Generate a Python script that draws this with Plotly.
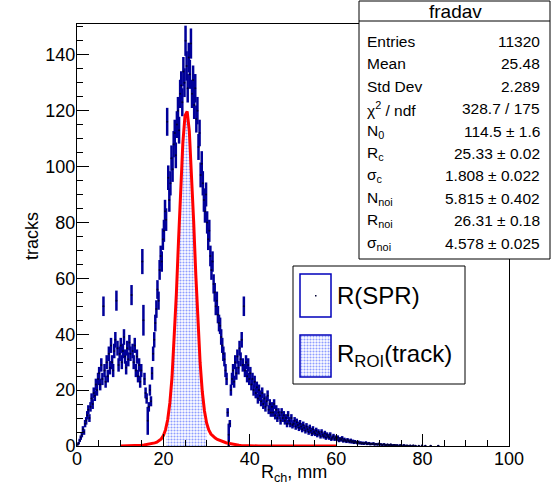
import numpy as np
import plotly.graph_objects as go

# ---------------- data ----------------
# R(SPR): histogram with 0.25 mm bins starting at 0 mm (None = empty bin)
spr_bin_start = 0.0
spr_bin_width = 0.25
spr_counts = [
    0.5, 1, 2, 3, 4, 6, 5, 8, 9, 11, 13, 10, 14, 17, 15, 19, 18, 22, 20, 24,
    26, 22, 29, 24, 50, 27, 23, 30, 25, 33, 28, 36, 30, 27, 34, 38, 52, 35, 29, 33,
    36, 30, 34, 39, 32, 28, 35, 31, 37, 33, 54, 34, 30, 36, 27, 32, 25, 29, 23, 27,
    66, 45, 24, 19, 17, 9, 14, 20, 16, 26, 33, 38, 44, 49, 56, 52, 63, 68, 66, 74,
    77, 84, 81, 116, 96, 88, 94, 103, 99, 108, 112, 104, 115, 120, 113, 126, 129, 123, 134, 130,
    145, 136, 128, 139, 133, 144, 126, 131, 122, 128, 117, 120, 107, 112, 97, 101, 94, 88, 84, 90,
    80, 74, 77, 68, 63, 66, 58, 55, 50, 52, 47, 44, 43, 39, 36, 33, 31, 27, 24, 12,
    4, 8, 20, 24, 27, 23, 30, 26, 32, 28, 35, 31, 38, 29, 50, 27, 30, 25, 29, 24,
    26, 22, 24, 20, 23, 19, 21, 17, 20, 18, 16, 19, 15, 17, 14, 16, 18, 13, 15, 12,
    14, 12, 15, 11, 13, 10, 12, 11, 9, 12, 10, 11, 9, 10, 8, 11, 9, 8, 10, 7.5,
    8, 9, 7, 8.5, 7.5, 6.5, 8, 7, 6, 7.5, 6.5, 5.5, 7, 6, 5, 6.5, 5.5, 4.5, 6, 5,
    4.5, 5.5, 4, 5, 4.5, 3.5, 5, 4, 3.5, 4.5, 3, 4, 3.5, 3, 4, 2.5, 3, 3.5, 2.5, 3,
    2.5, 3, 2, 2.5, 2.2, 2.8, 1.8, 2.3, 2, 1.6, 2.2, 1.8, 1.5, 2, 1.4, 1.7, 1.2, 1.6, 1.3, 1.1,
    1.4, 1, 1.2, 0.9, 1.1, 0.8, 1, 1.2, 0.7, 0.9, 1, 0.6, 0.8, 0.7, 0.9, 0.5, 0.7, 0.6, 0.5, 0.8,
    0.5, 0.6, 0.4, 0.5, 0.6, 0.3, 0.4, 0.5, 0.4, 0.3, 0.5, 0.3, 0.2, 0.4, 0.3, 0.2, 0.3, None, 0.2, 0.3,
    0.2, None, 0.3, 0.2, None, 0.2, 0.1, None, 0.2, None, 0.1, 0.2, None, 0.1, None, None, 0.1, None, None, 0.2,
    None, None, 0.1, None, None, None, None, 0.1, None, None, None, None, None, None, 0.1, None, None, None, None, None,
]
spr_errors = [
    0.3, 0.45, 0.6, 0.8, 0.9, 1.1, 1.0, 1.3, 1.35, 1.5, 1.6, 1.4, 1.7, 1.85, 1.75, 1.95, 1.9, 2.1, 2.0, 2.2,
    2.3, 2.1, 2.4, 2.2, 3.5, 2.35, 2.15, 2.5, 2.25, 2.6, 2.4, 2.7, 2.5, 2.35, 2.6, 2.8, 3.6, 2.65, 2.4, 2.6,
    2.7, 2.5, 2.6, 2.8, 2.55, 2.4, 2.65, 2.5, 2.75, 2.6, 3.6, 2.6, 2.5, 2.7, 2.35, 2.55, 2.25, 2.4, 2.15, 2.35,
    4.5, 5.5, 2.2, 1.95, 1.85, 5.0, 1.7, 2.0, 1.8, 2.3, 2.6, 2.75, 3.0, 3.15, 3.35, 3.25, 3.55, 3.7, 3.65, 3.85,
    3.95, 4.1, 4.05, 5.0, 4.4, 4.2, 4.35, 4.55, 4.5, 4.7, 4.75, 4.6, 4.8, 4.9, 4.8, 5.05, 5.1, 5.0, 5.2, 5.15,
    5.4, 5.25, 5.1, 5.3, 5.2, 5.4, 5.05, 5.15, 5.0, 5.1, 4.85, 4.9, 4.65, 4.75, 4.45, 4.5, 4.35, 4.2, 4.1, 4.3,
    4.0, 3.9, 3.95, 3.7, 3.55, 3.65, 3.45, 3.35, 3.2, 3.25, 3.1, 3.0, 2.95, 2.8, 2.7, 2.6, 2.5, 2.35, 2.2, 1.55,
    4.0, 1.3, 2.0, 2.2, 2.35, 2.15, 2.5, 2.3, 2.55, 2.4, 2.65, 2.5, 2.8, 2.4, 3.5, 2.35, 2.5, 2.25, 2.4, 2.2,
    2.3, 2.1, 2.2, 2.0, 2.15, 1.95, 2.05, 1.85, 2.0, 1.9, 1.8, 1.95, 1.75, 1.85, 1.7, 1.8, 1.9, 1.6, 1.75, 1.55,
    1.7, 1.55, 1.75, 1.5, 1.6, 1.4, 1.55, 1.5, 1.35, 1.55, 1.4, 1.5, 1.35, 1.4, 1.3, 1.5, 1.35, 1.3, 1.4, 1.25,
    1.3, 1.35, 1.2, 1.3, 1.25, 1.15, 1.3, 1.2, 1.1, 1.25, 1.15, 1.05, 1.2, 1.1, 1.0, 1.15, 1.05, 0.95, 1.1, 1.0,
    0.95, 1.05, 0.9, 1.0, 0.95, 0.85, 1.0, 0.9, 0.85, 0.95, 0.8, 0.9, 0.85, 0.8, 0.9, 0.7, 0.8, 0.85, 0.7, 0.8,
    0.7, 0.8, 0.65, 0.7, 0.65, 0.75, 0.6, 0.7, 0.65, 0.55, 0.65, 0.6, 0.55, 0.65, 0.55, 0.6, 0.5, 0.55, 0.5, 0.5,
    0.55, 0.45, 0.5, 0.45, 0.5, 0.4, 0.45, 0.5, 0.4, 0.45, 0.45, 0.35, 0.4, 0.4, 0.45, 0.3, 0.4, 0.35, 0.3, 0.4,
    0.3, 0.35, 0.3, 0.3, 0.35, 0.25, 0.3, 0.3, 0.3, 0.25, 0.3, 0.25, 0.2, 0.3, 0.25, 0.2, 0.25, 0, 0.2, 0.25,
    0.2, 0, 0.25, 0.2, 0, 0.2, 0.15, 0, 0.2, 0, 0.15, 0.2, 0, 0.15, 0, 0, 0.15, 0, 0, 0.2,
    0, 0, 0.15, 0, 0, 0, 0, 0.15, 0, 0, 0, 0, 0, 0, 0.15, 0, 0, 0, 0, 0,
]

# R_ROI(track): filled histogram, 0.5 mm bins starting at 20.5 mm
roi_bin_start = 20.5
roi_bin_width = 0.5
roi_counts = [6, 11, 19, 30, 45, 63, 83, 100, 112, 117,
              114, 104, 88, 70, 51, 36, 24, 15, 9]

# fit curve sampled from 10 mm to 60 mm in 0.5 mm steps
fit_x_start = 10.0
fit_step = 0.5
fit_values = [
    0.01, 0.015, 0.02, 0.03, 0.04, 0.06, 0.08, 0.11, 0.16, 0.21,
    0.28, 0.36, 0.46, 0.59, 0.74, 0.92, 1.12, 1.36, 1.87, 2.55,
    3.74, 5.84, 9.47, 15.5, 24.7, 37.7, 54.4, 73.4, 92.5, 108.4,
    118.2, 119.7, 112.7, 98.7, 80.5, 61.3, 43.9, 29.8, 19.5, 12.6,
    8.27, 5.74, 4.28, 3.41, 2.82, 2.34, 2.00, 1.70, 1.42, 1.18,
    0.96, 0.78, 0.62, 0.49, 0.38, 0.29, 0.22, 0.16, 0.12, 0.09,
    0.07, 0.05, 0.03, 0.02, 0.01, 0, 0, 0, 0, 0,
    0, 0, 0, 0, 0, 0, 0, 0, 0, 0,
    0, 0, 0, 0, 0, 0, 0, 0, 0, 0,
    0, 0, 0, 0, 0, 0, 0, 0, 0, 0,
    0,
]

stats_title = "fradav"
stats_labels = ["Entries", "Mean", "Std Dev", "χ<sup>2</sup> / ndf",
                "N<sub>0</sub>", "R<sub>c</sub>", "σ<sub>c</sub>",
                "N<sub>noi</sub>", "R<sub>noi</sub>", "σ<sub>noi</sub>"]
stats_values = ["11320", "25.48", "2.289", "328.7 / 175",
                "114.5 ± 1.6", "25.33 ± 0.02", "1.808 ± 0.022",
                "5.815 ± 0.402", "26.31 ± 0.18", "4.578 ± 0.025"]

legend_labels = ["R(SPR)", "R<sub>ROI</sub>(track)"]
x_ticks = [0, 20, 40, 60, 80, 100]
y_ticks = [0, 20, 40, 60, 80, 100, 120, 140]
x_title = "R<sub>ch</sub>, mm"
y_title = "tracks"

# ---------------- derived positions ----------------
spr_x = [spr_bin_start + (i + 0.5) * spr_bin_width for i in range(len(spr_counts))]
spr_xerr = [spr_bin_width / 2] * len(spr_counts)
roi_x = [roi_bin_start + (i + 0.5) * roi_bin_width for i in range(len(roi_counts))]
fit_x = [fit_x_start + i * fit_step for i in range(len(fit_values))]

W, H = 551, 484
L, R, T, B = 77, 42, 24, 38
PW, PH = W - L - R, H - T - B


def px(x):
    return (x - L) / PW


def py(y):
    return (H - B - y) / PH


FONT = "Liberation Sans, Arial, Helvetica, sans-serif"
NAVY = "#000099"
PATTERN = dict(shape=".", fgcolor="#1f3cff", bgcolor="white", size=3, solidity=0.4)

fig = go.Figure()

# filled ROI histogram
fig.add_trace(go.Bar(
    x=roi_x, y=roi_counts, width=roi_bin_width,
    marker=dict(color="white", line=dict(width=0), pattern=PATTERN),
    hoverinfo="skip",
))

# SPR histogram with error bars
fig.add_trace(go.Scatter(
    x=spr_x, y=spr_counts, mode="markers",
    marker=dict(size=2, color="#000033"),
    error_y=dict(type="data", array=spr_errors, visible=True,
                 color=NAVY, thickness=2.5, width=0),
    error_x=dict(type="data", array=spr_xerr, visible=True,
                 color=NAVY, thickness=1.5, width=0),
))

# fit curve
fig.add_trace(go.Scatter(
    x=fit_x, y=fit_values, mode="lines",
    line=dict(color="#ff0000", width=3),
))

# legend swatch with pattern (small overlay subplot)
sw2 = (300, 331, 335, 377)
fig.add_trace(go.Bar(
    x=[0], y=[1], width=[1], xaxis="x2", yaxis="y2",
    marker=dict(color="white", line=dict(width=0), pattern=PATTERN),
    hoverinfo="skip",
))

shapes = []
annotations = []

# stats box
sb = (359, 550, 1, 259)
shapes.append(dict(type="rect", xref="paper", yref="paper",
                   x0=px(sb[0]), x1=px(sb[1]), y0=py(sb[3]), y1=py(sb[2]),
                   fillcolor="white", line=dict(color="black", width=1),
                   layer="above"))
shapes.append(dict(type="line", xref="paper", yref="paper",
                   x0=px(sb[0]), x1=px(sb[1]), y0=py(21), y1=py(21),
                   line=dict(color="black", width=1), layer="above"))
annotations.append(dict(xref="paper", yref="paper", x=px(455), y=py(11),
                        text=stats_title, showarrow=False,
                        xanchor="center", yanchor="middle",
                        font=dict(family=FONT, size=19, color="black")))
for i, (lab, val) in enumerate(zip(stats_labels, stats_values)):
    yy = 41.5 + i * 22.4
    annotations.append(dict(xref="paper", yref="paper", x=px(365), y=py(yy),
                            text=lab, showarrow=False,
                            xanchor="left", yanchor="middle",
                            font=dict(family=FONT, size=15.5, color="black")))
    annotations.append(dict(xref="paper", yref="paper", x=px(542), y=py(yy),
                            text=val, showarrow=False,
                            xanchor="right", yanchor="middle",
                            font=dict(family=FONT, size=15.5, color="black")))

# legend box
lb = (293, 465, 266, 384)
shapes.append(dict(type="rect", xref="paper", yref="paper",
                   x0=px(lb[0]), x1=px(lb[1]), y0=py(lb[3]), y1=py(lb[2]),
                   fillcolor="rgba(0,0,0,0)", line=dict(color="black", width=1),
                   layer="above"))
sw1 = (300, 331, 274, 317)
shapes.append(dict(type="rect", xref="paper", yref="paper",
                   x0=px(sw1[0]), x1=px(sw1[1]), y0=py(sw1[3]), y1=py(sw1[2]),
                   fillcolor="white", line=dict(color="#0000bb", width=1.5),
                   layer="above"))
shapes.append(dict(type="rect", xref="paper", yref="paper",
                   x0=px(315), x1=px(316.5), y0=py(296.5), y1=py(295),
                   fillcolor="#000033", line=dict(width=0), layer="above"))
shapes.append(dict(type="rect", xref="paper", yref="paper",
                   x0=px(sw2[0]), x1=px(sw2[1]), y0=py(sw2[3]), y1=py(sw2[2]),
                   fillcolor="rgba(0,0,0,0)", line=dict(color="#0000bb", width=1.5),
                   layer="above"))
annotations.append(dict(xref="paper", yref="paper", x=px(335), y=py(295),
                        text=legend_labels[0], showarrow=False,
                        xanchor="left", yanchor="middle",
                        font=dict(family=FONT, size=24, color="black")))
annotations.append(dict(xref="paper", yref="paper", x=px(335), y=py(355),
                        text=legend_labels[1], showarrow=False,
                        xanchor="left", yanchor="middle",
                        font=dict(family=FONT, size=24, color="black")))

# axis titles
annotations.append(dict(xref="paper", yref="paper", x=px(32), y=py(236),
                        text=y_title, showarrow=False, textangle=-90,
                        xanchor="center", yanchor="middle",
                        font=dict(family=FONT, size=18, color="black")))
annotations.append(dict(xref="paper", yref="paper", x=px(294), y=py(473),
                        text=x_title, showarrow=False,
                        xanchor="center", yanchor="middle",
                        font=dict(family=FONT, size=18, color="black")))

axis_common = dict(ticks="inside", ticklen=12, tickwidth=1, tickcolor="black",
                   showline=True, linecolor="black", linewidth=1, mirror=True,
                   showgrid=False, zeroline=False,
                   tickfont=dict(family=FONT, size=18, color="black"),
                   minor=dict(ticks="inside", ticklen=6, dtick=5,
                              tickcolor="black", showgrid=False))

fig.update_layout(
    width=W, height=H,
    margin=dict(l=L, r=R, t=T, b=B, pad=0),
    paper_bgcolor="white", plot_bgcolor="white",
    showlegend=False, bargap=0, barmode="overlay",
    font=dict(family=FONT, size=18, color="black"),
    xaxis=dict(range=[0, 100], tickvals=x_ticks, ticklabelstandoff=-4, **axis_common),
    yaxis=dict(range=[0, 151], tickvals=y_ticks, ticklabelstandoff=-3, **axis_common),
    xaxis2=dict(domain=[px(sw2[0]), px(sw2[1])], range=[-0.5, 0.5], anchor="y2",
                visible=False, fixedrange=True),
    yaxis2=dict(domain=[py(sw2[3]), py(sw2[2])], range=[0, 1], anchor="x2",
                visible=False, fixedrange=True),
    shapes=shapes, annotations=annotations,
)

fig.write_html("out.html",
               config={"displayModeBar": False},
               post_script="document.body.style.margin='0px';"
                           "document.body.style.overflow='hidden';")
